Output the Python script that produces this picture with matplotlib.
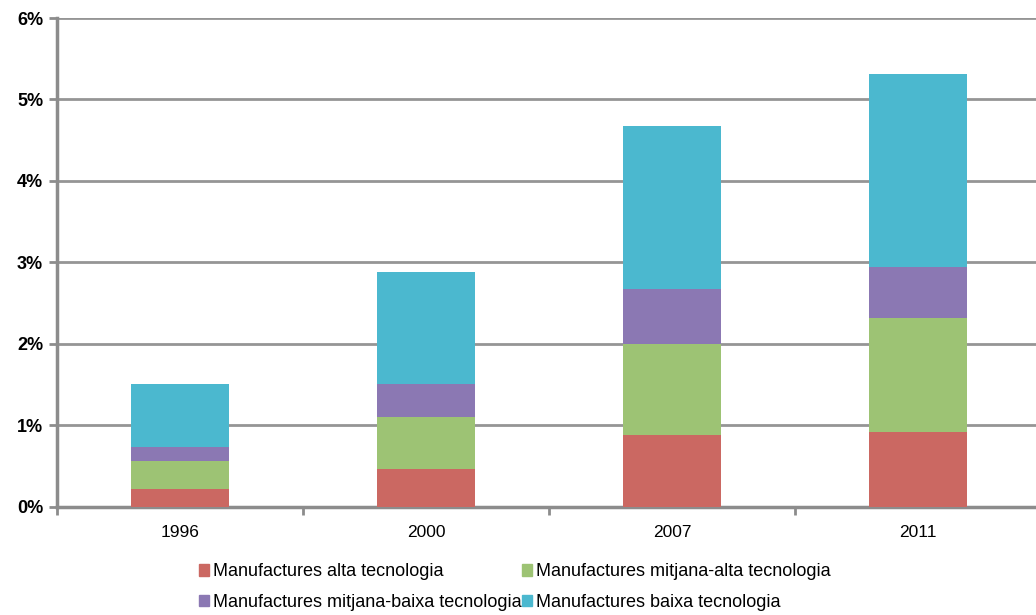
import numpy as np
import matplotlib
matplotlib.use('Agg')
import matplotlib.pyplot as plt
from matplotlib.patches import Patch
from matplotlib.ticker import FixedLocator

plt.rcParams['font.family'] = ['Liberation Sans', 'DejaVu Sans']

# dades (% del total)
years = ['1996', '2000', '2007', '2011']
alta = [0.22, 0.46, 0.88, 0.91]
mitjana_alta = [0.34, 0.64, 1.12, 1.40]
mitjana_baixa = [0.17, 0.40, 0.67, 0.63]
baixa = [0.77, 1.38, 2.00, 2.37]

labels = ['Manufactures alta tecnologia',
          'Manufactures mitjana-alta tecnologia',
          'Manufactures mitjana-baixa tecnologia',
          'Manufactures baixa tecnologia']
colors = ['#CB6862', '#9DC374', '#8B78B3', '#4BB8CF']

fig = plt.figure(figsize=(10.36, 6.15), dpi=100)
ax = fig.add_axes([57 / 1036, 1 - 506.5 / 615, 1 - 57 / 1036, (506.5 - 18) / 615])

x = np.arange(len(years))
bottom = np.zeros(len(years))
for vals, c in zip([alta, mitjana_alta, mitjana_baixa, baixa], colors):
    ax.bar(x, vals, width=0.4, bottom=bottom, color=c, zorder=3)
    bottom += np.array(vals)

ax.set_ylim(0, 6)
ax.set_xlim(-0.5, 3.48)
ax.set_yticks(range(7))
ax.set_yticklabels([f'{i}%' for i in range(7)])
ax.set_xticks(x)
ax.set_xticklabels(years)
ax.xaxis.set_minor_locator(FixedLocator([-0.5, 0.5, 1.5, 2.5]))
ax.tick_params(axis='x', which='major', length=0, pad=13, labelsize=12.5)
ax.tick_params(axis='x', which='minor', length=6, width=2, color='#8c8c8c', direction='out')
ax.tick_params(axis='y', length=6, width=2, color='#8c8c8c', labelsize=13, pad=4)
for t in ax.get_yticklabels():
    t.set_fontweight('bold')

ax.grid(axis='y', color='#959595', linewidth=2, zorder=0)
for s in ['top', 'right']:
    ax.spines[s].set_visible(False)
for s in ['left', 'bottom']:
    ax.spines[s].set_color('#8c8c8c')
    ax.spines[s].set_linewidth(2.5)

handles = [Patch(color=c) for c in colors]
order = [0, 2, 1, 3]
fig.legend([handles[i] for i in order], [labels[i] for i in order],
           ncol=2, loc='upper left', bbox_to_anchor=(194 / 1036, 1 - 558 / 615),
           frameon=False, fontsize=13, handlelength=0.55, handleheight=0.6,
           handletextpad=0.2, columnspacing=0.05, labelspacing=0.75,
           borderaxespad=0, borderpad=0.3)

plt.savefig('out.png', dpi=100)
